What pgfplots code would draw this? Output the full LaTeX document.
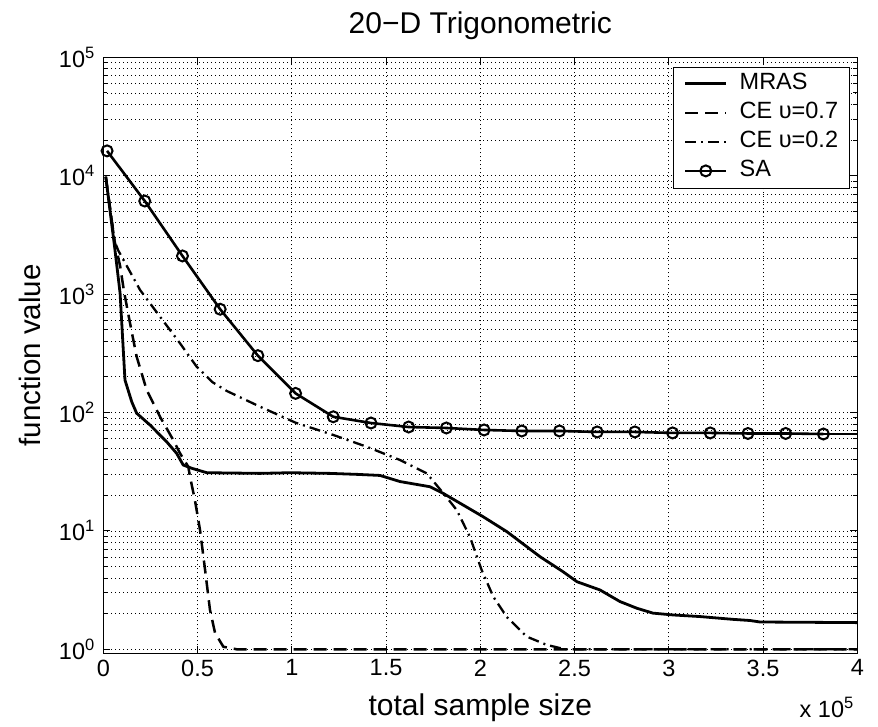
\documentclass[border=0pt]{standalone}
\usepackage{pgfplots}
\pgfplotsset{compat=1.18}
\usepackage{fontspec}
\setmainfont{Liberation Sans}

\begin{document}
\begin{tikzpicture}
\begin{axis}[
  name=ax,
  scale only axis, width=754pt, height=596pt,
  xmin=0, xmax=4, ymode=log, ymin=0.925, ymax=1e5,
  xtick={0,0.5,1,1.5,2,2.5,3,3.5,4},
  xticklabels={0,0.5,1,1.5,2,2.5,3,3.5,4},
  ytick={1,10,100,1000,10000,100000},
  yticklabels={10\textsuperscript{0},10\textsuperscript{1},10\textsuperscript{2},10\textsuperscript{3},10\textsuperscript{4},10\textsuperscript{5}},
  tick label style={font=\fontsize{23.5}{27}\selectfont},
  yticklabel style={xshift=-5pt},
  xticklabel style={yshift=-3pt},
  tick align=inside, major tick length=7pt, minor tick length=4pt,
  xtick pos=both, ytick pos=both,
  grid=both,
  major grid style={black, line width=0.7pt, dash pattern=on 1pt off 3pt},
  minor grid style={black, line width=0.7pt, dash pattern=on 1pt off 3pt},
  axis line style={line width=1.2pt},
  every tick/.style={black, line width=0.9pt},
  legend cell align=left,
  legend image code/.code={\draw[mark repeat=2,mark phase=2,#1] plot coordinates {(0pt,0pt) (20.5pt,0pt) (41pt,0pt)};},
  legend style={at={(1,1)}, anchor=north east, xshift=-8pt, yshift=-9.4pt,
    font=\fontsize{23.5}{27}\selectfont, draw=black, fill=white,
    nodes={inner sep=0pt, text height=17pt, text depth=5pt},
    row sep=7pt, column sep=12pt, inner xsep=11pt, inner ysep=6pt},
]
\addplot[black, line width=2.8pt, legend image post style={line width=2.8pt}] coordinates {
(0.013,9810) (0.06,2500) (0.089,1021) (0.115,188) (0.151,123) (0.177,98.5)
(0.248,78.4) (0.336,56.6) (0.389,45.2) (0.424,36) (0.469,33.8) (0.549,31)
(0.831,30.6) (0.99,31) (1.2,30.6) (1.35,30) (1.468,29.4) (1.574,26.1)
(1.733,23.6) (1.802,20.8) (2.014,13.2) (2.141,9.85) (2.317,6.05) (2.439,4.52)
(2.513,3.72) (2.635,3.17) (2.741,2.53) (2.831,2.22) (2.916,2.02) (3.022,1.95)
(3.165,1.89) (3.34,1.79) (3.431,1.75) (3.484,1.70) (4.0,1.68)
};
\addlegendentry{MRAS}
\addplot[black, line width=2.5pt, dash pattern=on 13pt off 7pt, legend image post style={line width=2.5pt}] coordinates {
(0.013,9810) (0.06,2800) (0.09,1700) (0.11,1050) (0.142,566) (0.177,296)
(0.230,155) (0.301,92) (0.371,58.6) (0.407,45.2) (0.451,34.8) (0.46,28.7)
(0.486,18.2) (0.513,10.2) (0.54,4.68) (0.566,2.15) (0.593,1.37) (0.637,1.05)
(0.708,1.0) (4.0,1.0)
};
\addlegendentry{CE υ=0.7}
\addplot[black, line width=2.3pt, dash pattern=on 11pt off 5pt on 2pt off 5pt, legend image post style={line width=2.3pt}] coordinates {
(0.013,9810) (0.06,2800) (0.079,2340) (0.195,1084) (0.301,644) (0.407,384)
(0.495,244) (0.58,180) (0.655,152) (0.831,112) (1.02,82) (1.22,64.6) (1.397,51.4)
(1.574,39.7) (1.716,30.6) (1.804,20.8) (1.875,15) (1.945,8.9) (2.007,4.68)
(2.069,2.78) (2.14,1.88) (2.246,1.28) (2.352,1.09) (2.45,1.0) (4.0,1.0)
};
\addlegendentry{CE υ=0.2}
\addplot[black, line width=2.6pt, mark=o, mark size=5.5pt, mark options={line width=2pt, solid}, legend image post style={line width=2.6pt}] coordinates {
(0.02,16200) (0.22,6110) (0.42,2100) (0.62,745) (0.82,302) (1.02,145)
(1.22,92) (1.42,81.5) (1.62,75.4) (1.82,74) (2.02,71.2) (2.22,69.8)
(2.42,69.8) (2.62,68.5) (2.82,68.5) (3.02,67.2) (3.22,67.2) (3.42,66.5)
(3.62,66.5) (3.82,65.8)
};
\addlegendentry{SA}
\addplot[black, line width=2.6pt, forget plot] coordinates {(3.82,65.8) (4.0,65.8)};
\end{axis}
\node[anchor=base, font=\fontsize{30}{34}\selectfont] at ([yshift=23.3pt]ax.north) {20−D Trigonometric};
\node[anchor=base, font=\fontsize{30}{34}\selectfont] at ([yshift=-62.7pt]ax.south) {total sample size};
\node[anchor=base east, font=\fontsize{23.5}{27}\selectfont] at ([yshift=-64.7pt]ax.south east) {x 10\textsuperscript{5}};
\node[rotate=90, font=\fontsize{29.5}{33}\selectfont] at ([xshift=-73.3pt]ax.west) {function value};
\pgfresetboundingbox
\path[use as bounding box] ([shift={(-103.3pt,-73.7pt)}]ax.south west) rectangle ([shift={(20.7pt,57.3pt)}]ax.north east);
\end{tikzpicture}
\end{document}
